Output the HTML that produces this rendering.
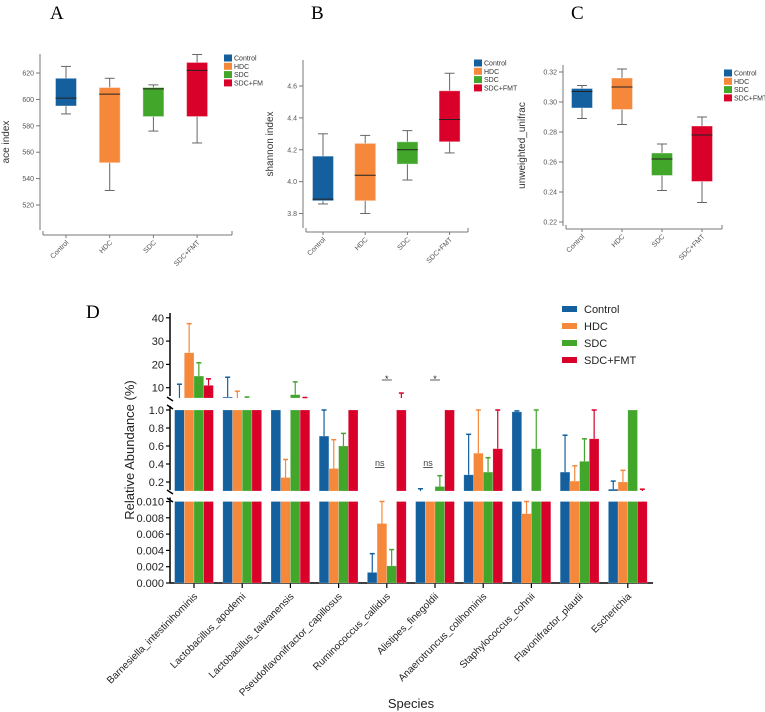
<!DOCTYPE html>
<html><head><meta charset="utf-8">
<style>
html,body{margin:0;padding:0;background:#fff;}
svg{display:block;font-family:"Liberation Sans",sans-serif;}
</style></head>
<body>
<svg id="fig" width="765" height="712" viewBox="0 0 765 712" xmlns="http://www.w3.org/2000/svg">
<text x="50" y="19" font-family="Liberation Serif" font-size="19">A</text>
<text x="311" y="19" font-family="Liberation Serif" font-size="19">B</text>
<text x="571" y="19" font-family="Liberation Serif" font-size="19">C</text>
<text x="86" y="318" font-family="Liberation Serif" font-size="19">D</text>
</svg>
<script>
const NS='http://www.w3.org/2000/svg';
const svg=document.getElementById('fig');
const colors=['#14609e','#f5883a','#42a62b','#d9002a'];
const groups=['Control','HDC','SDC','SDC+FMT'];
// box plot stats: [min, q1, median, q3, max]
const aceStats=[[589,595,601,616,625],[531,552,604,609,616],[576,587,608,609,611],[567,587,622,628,634]];
const aceTicks=[520,540,560,580,600,620];
const shannonStats=[[3.86,3.88,3.89,4.16,4.30],[3.80,3.88,4.04,4.24,4.29],[4.01,4.11,4.20,4.25,4.32],[4.18,4.25,4.39,4.57,4.68]];
const shannonTicks=[3.8,4.0,4.2,4.4,4.6];
const unifracStats=[[0.289,0.296,0.307,0.309,0.311],[0.285,0.295,0.310,0.316,0.322],[0.241,0.251,0.262,0.266,0.272],[0.233,0.247,0.278,0.284,0.290]];
const unifracTicks=[0.22,0.24,0.26,0.28,0.30,0.32];
const legendA=['Control','HDC','SDC','SDC+FM'];

function el(tag,attrs,parent){const e=document.createElementNS(NS,tag);for(const k in attrs)e.setAttribute(k,attrs[k]);(parent||svg).appendChild(e);return e;}

function boxPanel(p){
  const g=el('g',{});
  
  
  const y=v=>p.y0+(v-p.v0)*(p.y1-p.y0)/(p.v1-p.v0);
  el('line',{x1:p.ax,y1:p.top,x2:p.ax,y2:p.bot,stroke:'#777','stroke-width':1},g);
  el('line',{x1:p.ax+3,y1:p.xaY,x2:p.xaEnd,y2:p.xaY,stroke:'#777','stroke-width':1},g);
  el('line',{x1:p.ax+3,y1:p.xaY,x2:p.ax+3,y2:p.xaY-4,stroke:'#777'},g);
  el('line',{x1:p.xaEnd,y1:p.xaY,x2:p.xaEnd,y2:p.xaY-4,stroke:'#777'},g);
  p.ticks.forEach(t=>{
    el('line',{x1:p.ax-4,y1:y(t),x2:p.ax,y2:y(t),stroke:'#777'},g);
    const tx=el('text',{x:p.ax-6,y:y(t)+2.5,'font-size':7,fill:'#555','text-anchor':'end'},g);
    
    
    tx.textContent=p.fmt(t);
  });
  const yl=el('text',{x:0,y:0,'font-size':10,fill:'#333','text-anchor':'middle',transform:`translate(${p.ylx},${(p.top+p.bot)/2}) rotate(-90)`},g);
  
  
  yl.textContent=p.ylabel;
  p.stats.forEach((s,i)=>{
    const cx=p.cx0+i*p.step, w=21;
    const bg=el('g',{},g);
    
    
    el('line',{x1:cx,y1:y(s[0]),x2:cx,y2:y(s[4]),stroke:'#666'},bg);
    el('line',{x1:cx-5,y1:y(s[0]),x2:cx+5,y2:y(s[0]),stroke:'#666'},bg);
    el('line',{x1:cx-5,y1:y(s[4]),x2:cx+5,y2:y(s[4]),stroke:'#666'},bg);
    el('rect',{x:cx-w/2,y:y(s[3]),width:w,height:y(s[1])-y(s[3]),fill:colors[i],stroke:'#fff','stroke-opacity':0.4},bg);
    el('line',{x1:cx-w/2,y1:y(s[2]),x2:cx+w/2,y2:y(s[2]),stroke:'#222','stroke-width':1},bg);
    el('line',{x1:cx,y1:p.xaY,x2:cx,y2:p.xaY+3,stroke:'#777'},g);
    const xt=el('text',{x:0,y:0,'font-size':7,fill:'#555','text-anchor':'end',transform:`translate(${cx+3},${p.xaY+8}) rotate(-45)`},g);
    
    
    xt.textContent=groups[i];
  });
  p.legend.forEach((l,i)=>{
    const ly=p.legY+i*8.3;
    const r=el('rect',{x:p.legX,y:ly-3.5,width:8,height:7,fill:colors[i]},g);
    
    
    const t=el('text',{x:p.legX+10,y:ly+2.5,'font-size':7,fill:'#333'},g);
    
    
    t.textContent=l;
  });
}
boxPanel({name:'panel-a-ace',stats:aceStats,ticks:aceTicks,fmt:t=>t,v0:620,y0:73,v1:520,y1:205,ax:40,top:54,bot:230,xaY:235,xaEnd:232,cx0:66,step:43.7,ylx:9,ylabel:'ace index',legend:legendA,legX:224,legY:58});
boxPanel({name:'panel-b-shannon',stats:shannonStats,ticks:shannonTicks,fmt:t=>t.toFixed(1),v0:4.6,y0:86,v1:3.8,y1:213.5,ax:303,top:60,bot:228,xaY:232,xaEnd:468,cx0:323,step:42.2,ylx:273,ylabel:'shannon index',legend:groups,legX:474,legY:63});
boxPanel({name:'panel-c-unifrac',stats:unifracStats,ticks:unifracTicks,fmt:t=>t.toFixed(2),v0:0.32,y0:72,v1:0.22,y1:222,ax:563,top:65,bot:226,xaY:229,xaEnd:722,cx0:582,step:40,ylx:525,ylabel:'unweighted_unifrac',legend:groups,legX:724,legY:73});

// ---- Panel D ----
const species=['Barnesiella_intestinihominis','Lactobacillus_apodemi','Lactobacillus_taiwanensis','Pseudoflavonifractor_capillosus','Ruminococcus_callidus','Alistipes_finegoldii','Anaerotruncus_colihominis','Staphylococcus_cohnii','Flavonifractor_plautii','Escherichia'];
const controlMean=[5.0,6.0,3.0,0.71,0.0013,0.08,0.28,0.98,0.31,0.12];
const controlErr=[11.5,14.5,3.0,1.0,0.0036,0.125,0.73,0.99,0.72,0.21];
const hdcMean=[25,5.0,0.25,0.35,0.0073,0.05,0.52,0.0085,0.21,0.2];
const hdcErr=[37.5,8.5,0.45,0.67,0.012,0.05,1.0,0.012,0.38,0.33];
const sdcMean=[15,5.5,7.0,0.6,0.0021,0.15,0.31,0.57,0.43,1.5];
const sdcErr=[20.7,6.0,12.5,0.74,0.0041,0.27,0.47,1.0,0.68,1.5];
const fmtMean=[11,3.0,5.5,2.0,5.2,2.0,0.57,0.05,0.68,0.05];
const fmtErr=[13.8,3.0,5.8,2.0,7.7,2.0,1.0,0.05,1.0,0.12];
const topTicks=[10,20,30,40];
const midTicks=[0.2,0.4,0.6,0.8,1.0];
const botTicks=[0,0.002,0.004,0.006,0.008,0.010];
const means=[controlMean,hdcMean,sdcMean,fmtMean], errs=[controlErr,hdcErr,sdcErr,fmtErr];

const AX=170, X0=194, STEP=48.2, BW=9.7;
const TOPB=398, MIDT=410, MIDB=491, BOTT=501.5, BOTB=583;
const yTop=v=>387.7-(v-10)*2.33, TOPMIN=10-(TOPB-387.7)/2.33;
const yMid=v=>MIDT+(1-v)*90;
const yBot=v=>BOTB-v*8150;
const gD=el('g',{});


el('line',{x1:AX,y1:313,x2:AX,y2:TOPB-2,stroke:'#000','stroke-width':1.5},gD);
el('line',{x1:AX,y1:MIDT-4,x2:AX,y2:MIDB-1,stroke:'#000','stroke-width':1.5},gD);
el('line',{x1:AX,y1:BOTT-4,x2:AX,y2:BOTB,stroke:'#000','stroke-width':1.5},gD);
[[TOPB],[MIDB]].forEach(([yy])=>{
  el('line',{x1:AX-3,y1:yy-1,x2:AX+3,y2:yy+3,stroke:'#000','stroke-width':1.5},gD);
  el('line',{x1:AX-3,y1:yy+7,x2:AX+3,y2:yy+11,stroke:'#000','stroke-width':1.5},gD);
});
el('line',{x1:AX,y1:BOTB,x2:653,y2:BOTB,stroke:'#000','stroke-width':1.5},gD);
function yt(v,yy,txt){
  el('line',{x1:AX-4,y1:yy,x2:AX,y2:yy,stroke:'#000','stroke-width':1.2},gD);
  const t=el('text',{x:AX-6,y:yy+4,'font-size':11,fill:'#222','text-anchor':'end'},gD);
  
  
  t.textContent=txt;
}
topTicks.forEach(v=>yt(v,yTop(v),String(v)));
midTicks.forEach(v=>yt(v,yMid(v),v.toFixed(1)));
botTicks.forEach(v=>yt(v,yBot(v),v.toFixed(3)));
const yl=el('text',{x:0,y:0,'font-size':13,fill:'#222','text-anchor':'middle',transform:'translate(134,450) rotate(-90)'},gD);


yl.textContent='Relative Abundance (%)';
const xl=el('text',{x:411,y:708,'font-size':13,fill:'#222','text-anchor':'middle'},gD);


xl.textContent='Species';

species.forEach((s,i)=>{
  const cx=X0+i*STEP;
  el('line',{x1:cx,y1:BOTB,x2:cx,y2:BOTB+5,stroke:'#000','stroke-width':1.2},gD);
  const t=el('text',{x:0,y:0,'font-size':10,fill:'#222','text-anchor':'end',transform:`translate(${cx+4},${BOTB+14}) rotate(-45)`},gD);
  
  
  t.textContent=s;
  for(let g=0;g<4;g++){
    const v=means[g][i], e=errs[g][i];
    const x=cx-2*BW+g*BW;
    const bg=el('g',{},gD);
    
    
    const st={fill:colors[g],stroke:'#fff','stroke-opacity':0.35,'stroke-width':0.6};
    const yb=yBot(Math.min(v,0.01));
    el('rect',Object.assign({x:x,y:yb,width:BW,height:BOTB-yb},st),bg);
    if(v>0.1){const ym=yMid(Math.min(v,1));el('rect',Object.assign({x:x,y:ym,width:BW,height:MIDB-ym},st),bg);}
    if(v>TOPMIN){const ytt=yTop(v);el('rect',Object.assign({x:x,y:ytt,width:BW,height:TOPB-ytt},st),bg);}
    if(e>v){
      let y1,y2;
      if(e>TOPMIN){y2=yTop(e);y1=v>TOPMIN?yTop(v):TOPB;}
      else if(e>0.1){y2=yMid(Math.min(e,1));y1=v>0.1?yMid(Math.min(v,1)):MIDB;}
      else {y2=yBot(Math.min(e,0.01));y1=yBot(Math.min(v,0.01));}
      const xc=x+BW/2;
      el('line',{x1:xc,y1:y1,x2:xc,y2:y2,stroke:colors[g],'stroke-width':1.2},bg);
      el('line',{x1:xc-2.5,y1:y2,x2:xc+2.5,y2:y2,stroke:colors[g],'stroke-width':1.5},bg);
    }
  }
});
[[4,'*','ns'],[5,'*','ns']].forEach(([i,a,b])=>{
  const cx=X0+i*STEP;
  el('line',{x1:cx-5,y1:380,x2:cx+5,y2:380,stroke:'#333','stroke-width':0.8},gD);
  const s=el('text',{x:cx,y:382,'font-size':9,'text-anchor':'middle',fill:'#222'},gD);
  
  
  s.textContent=a;
  const n=el('text',{x:cx-7,y:466,'font-size':9,'text-anchor':'middle',fill:'#444','text-decoration':'underline'},gD);
  
  
  n.textContent=b;
});
groups.forEach((gname,i)=>{
  const ly=309+i*17;
  const r=el('rect',{x:562,y:ly-3,width:15,height:6,fill:colors[i]},gD);
  
  
  const t=el('text',{x:584,y:ly+4,'font-size':11,fill:'#222'},gD);
  
  
  t.textContent=gname;
});
</script>
</body></html>
